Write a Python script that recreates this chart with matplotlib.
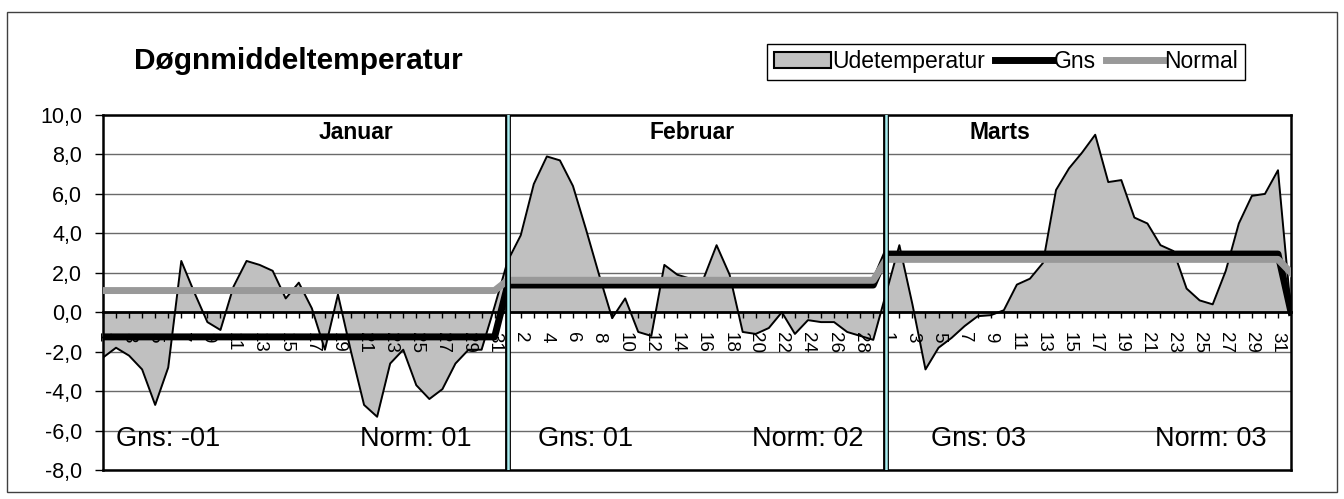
import matplotlib.pyplot as plt
import numpy as np
from matplotlib.patches import Rectangle, Patch
from matplotlib.lines import Line2D

plt.rcParams['font.family'] = ['Liberation Sans', 'DejaVu Sans']

# daily mean temperature, Jan / Feb (leap year) / Mar, plus one empty day at the end
jan = [-2.3, -1.8, -2.2, -2.9, -4.7, -2.8, 2.6, 1.0, -0.5, -0.9, 1.3, 2.6, 2.4, 2.1, 0.7, 1.5,
       0.2, -1.9, 0.9, -2.0, -4.7, -5.3, -2.6, -1.9, -3.7, -4.4, -3.9, -2.6, -1.9, -1.9, 0.3]
feb = [2.6, 3.9, 6.5, 7.9, 7.7, 6.4, 4.2, 1.9, -0.3, 0.7, -1.0, -1.2, 2.4, 1.9, 1.7, 1.7,
       3.4, 1.9, -1.0, -1.1, -0.8, 0.0, -1.1, -0.4, -0.5, -0.5, -1.0, -1.2, -1.4]
mar = [1.0, 3.4, 0.4, -2.9, -1.8, -1.3, -0.7, -0.2, -0.15, 0.1, 1.4, 1.7, 2.5, 6.2, 7.3, 8.1,
       9.0, 6.6, 6.7, 4.8, 4.5, 3.4, 3.1, 1.2, 0.6, 0.4, 2.1, 4.5, 5.9, 6.0, 7.2]
tail = [0.0]

month_names = ['Januar', 'Februar', 'Marts']
month_days = [31, 29, 31, 1]
gns_month = [-1.25, 1.38, 2.95, 0.0]
normal_month = [1.1, 1.62, 2.68, 2.0]
gns_text = ['Gns: -01', 'Gns: 01', 'Gns: 03']
norm_text = ['Norm: 01', 'Norm: 02', 'Norm: 03']

temp = np.array(jan + feb + mar + tail)
gns = np.repeat(gns_month, month_days)
normal = np.repeat(normal_month, month_days)
day_no = list(range(1, 32)) + list(range(1, 30)) + list(range(1, 32)) + [1]
x = np.arange(len(temp))
month_start = np.cumsum([0] + month_days)

fig = plt.figure(figsize=(13.44, 4.99), dpi=100)
ax = fig.add_axes([0.0766, 0.0581, 0.884, 0.7114])

ax.fill_between(x, temp, 0, color='#c0c0c0', lw=0, zorder=1)
ax.plot(x, temp, color='black', lw=1.4, zorder=2)
ax.plot(x, gns, color='black', lw=5, zorder=3)
ax.plot(x, normal, color='#999999', lw=5, zorder=3.1)

# month separators
for b in month_start[1:3]:
    ax.axvline(b, color='black', lw=4.2, zorder=5)
    ax.axvline(b, color='#a8eef0', lw=1.8, zorder=6)

ax.set_xlim(0, len(temp) - 1)
ax.set_ylim(-8, 10)

yt = np.arange(-8, 10.1, 2)
ax.set_yticks(yt)
ax.set_yticklabels([f'{v:.1f}'.replace('.', ',') for v in yt], fontsize=15.5)
ax.tick_params(axis='y', direction='out', length=6, width=1, pad=9)
ax.yaxis.grid(True, color='#6a6a6a', lw=1)

xt = x[:-1]
ax.set_xticks(xt)
ax.set_xticklabels([str(day_no[i]) if i % 2 == 0 else '' for i in xt])
ax.tick_params(axis='x', direction='out', length=4, width=1, pad=10, labelsize=13.5,
               labelrotation=-90)

ax.yaxis.set_zorder(0.5)
ax.xaxis.set_zorder(1.5)

for s in ['left', 'right', 'top']:
    ax.spines[s].set_linewidth(1.8)
ax.spines['bottom'].set_position(('data', 0))
ax.spines['bottom'].set_linewidth(2)
ax.axhline(-8, color='black', lw=1.8, clip_on=False, zorder=4)

# month titles and averages
month_label_x = [19.4, 45.1, 68.7]
gns_x = [1.0, 33.3, 63.4]
norm_x = [19.7, 49.7, 80.6]
for k in range(3):
    ax.text(month_label_x[k], 9.1, month_names[k], ha='center', va='center',
            fontsize=16.5, fontweight='bold', zorder=7)
    ax.text(gns_x[k], -6.45, gns_text[k], ha='left', va='center', fontsize=19.5, zorder=7)
    ax.text(norm_x[k], -6.45, norm_text[k], ha='left', va='center', fontsize=19.5, zorder=7)

fig.text(0.1, 0.878, 'Døgnmiddeltemperatur', fontsize=21.5, fontweight='bold',
         ha='left', va='center')

handles = [Patch(facecolor='#c0c0c0', edgecolor='black', lw=1.5),
           Line2D([], [], color='black', lw=5),
           Line2D([], [], color='#999999', lw=5)]
fig.legend(handles, ['Udetemperatur', 'Gns', 'Normal'], loc='center',
           bbox_to_anchor=(0.7485, 0.876), ncol=3, fontsize=16.5, frameon=True,
           fancybox=False, edgecolor='black', handlelength=2.5, handletextpad=0.05,
           columnspacing=0.45, borderpad=0.3, borderaxespad=0, framealpha=1)

fig.add_artist(Rectangle((0.0052, 0.014), 0.9896, 0.962, transform=fig.transFigure,
                         fill=False, edgecolor='#404040', lw=1))

fig.savefig('out.png', dpi=100)
